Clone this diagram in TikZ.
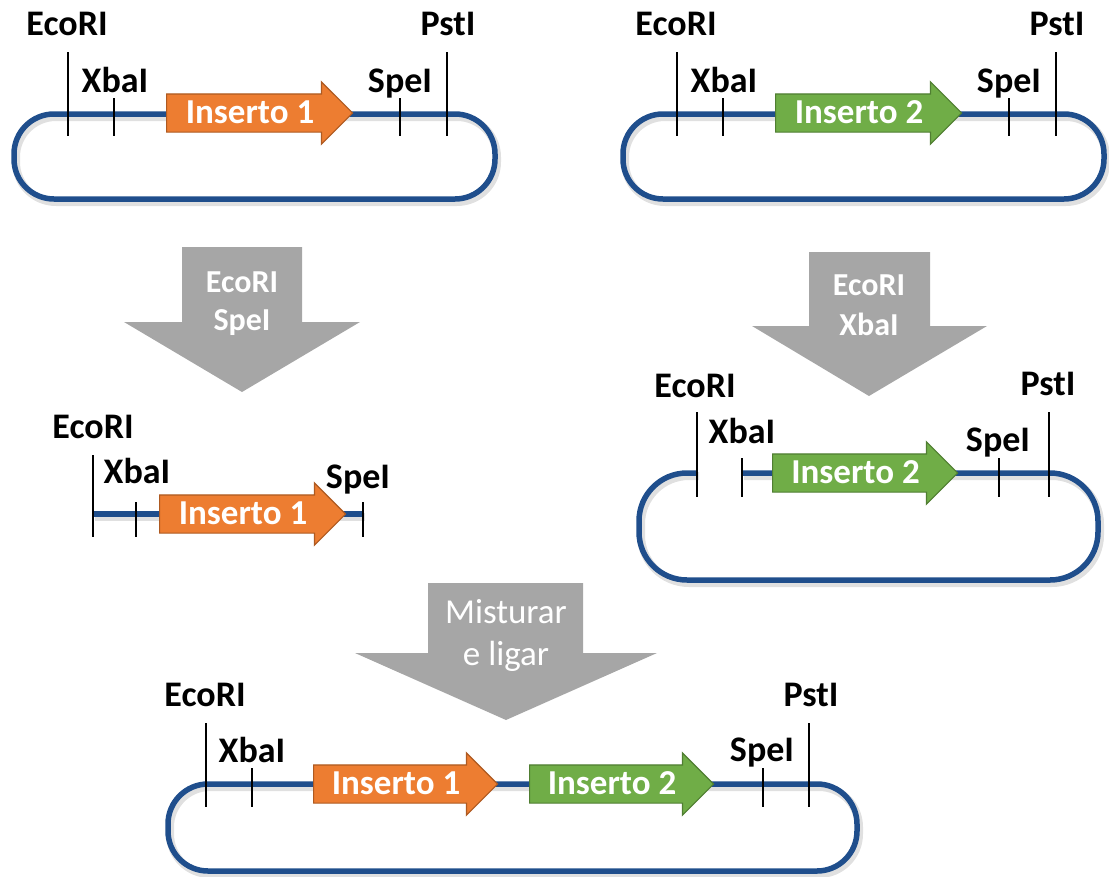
\documentclass[tikz,border=0pt]{standalone}
\usepackage{fontspec}
\setmainfont{Carlito}
\usetikzlibrary{shapes.arrows}
\definecolor{dnablue}{RGB}{31,78,140}
\definecolor{insorange}{RGB}{237,125,49}
\definecolor{insorangedk}{RGB}{174,90,33}
\definecolor{insgreen}{RGB}{112,173,71}
\definecolor{insgreendk}{RGB}{80,126,50}
\definecolor{enzgray}{RGB}{166,166,166}
\tikzset{
  ring/.style={draw=dnablue, line width=5.5pt, rounded corners=40pt,
    preaction={draw=black, draw opacity=0.12, line width=8pt, transform canvas={shift={(2pt,-3pt)}}}},
  cut/.style={line width=2.5pt},
  site/.style={font=\fontsize{36}{40}\selectfont\bfseries, anchor=base, inner sep=0pt},
  inserto/.style={single arrow, anchor=tail, single arrow head extend=12pt, inner xsep=2pt, inner ysep=0pt,
    text height=28.5pt, text depth=8.5pt, line width=1.2pt, text=white, font=\fontsize{35}{40}\selectfont\bfseries},
  ins1/.style={inserto, fill=insorange, draw=insorangedk},
  ins2/.style={inserto, fill=insgreen, draw=insgreendk},
  enzarrow/.style={fill=enzgray},
  enztext/.style={text=white, anchor=base, inner sep=0pt, font=\fontsize{32}{36}\selectfont\bfseries}
}
\begin{document}
\begin{tikzpicture}[x=1pt,y=-1pt]
  \useasboundingbox (0,0) rectangle (1109,876);
  % starting plasmids
  \foreach \dx/\n/\st in {0/1/ins1, 609/2/ins2} {
    \begin{scope}[xshift=\dx pt]
      \draw[ring] (14,114) rectangle (495,199);
      \node[\st, minimum height=186pt] (ins\n) at (166,113) {Inserto \n};
      \draw[cut] (68,52) -- (68,136);
      \draw[cut] (114,98) -- (114,136);
      \draw[cut] (400,98) -- (400,136);
      \draw[cut] (447,52) -- (447,136);
      \node[site] (eco\n) at (67,35) {EcoRI};
      \node[site] (xba\n) at (115,92) {XbaI};
      \node[site] (spe\n) at (400,92) {SpeI};
      \node[site] (pst\n) at (448,35) {PstI};
    \end{scope}
  }
  % digestion
  \fill[enzarrow] (182,247) -- (302,247) -- (302,322) -- (360,322) -- (242,392) -- (124,322) -- (182,322) -- cycle;
  \node[enztext] (dig1a) at (242,292) {EcoRI};
  \node[enztext] (dig1b) at (242,330) {SpeI};
  \fill[enzarrow] (809,252) -- (930,252) -- (930,326) -- (987,326) -- (869,396) -- (752,326) -- (809,326) -- cycle;
  \node[enztext] (dig2a) at (869,295) {EcoRI};
  \node[enztext] (dig2b) at (869,335) {XbaI};
  % fragment
  \draw[ring] (93,514) -- (363,514);
  \node[ins1, minimum height=186pt] (frag) at (159,514) {Inserto 1};
  \draw[cut] (93,455) -- (93,537);
  \draw[cut] (136,502) -- (136,537);
  \draw[cut] (363,502) -- (363,537);
  \node[site] (ecof) at (93,438) {EcoRI};
  \node[site] (xbaf) at (137,483) {XbaI};
  \node[site] (spef) at (358,488) {SpeI};
  % open vector
  \draw[ring, rounded corners=48pt] (742,473) -- (1098,473) -- (1098,580) -- (639,580) -- (639,473) -- (697,473);
  \node[ins2, minimum height=185pt] (vec) at (772,473) {Inserto 2};
  \draw[cut] (697,412) -- (697,497);
  \draw[cut] (742,458) -- (742,497);
  \draw[cut] (999,458) -- (999,497);
  \draw[cut] (1049,412) -- (1049,497);
  \node[site] (ecov) at (695,397) {EcoRI};
  \node[site] (xbav) at (742,443) {XbaI};
  \node[site] (spev) at (998,451) {SpeI};
  \node[site] (pstv) at (1048,395) {PstI};
  % ligation
  \fill[enzarrow] (428,583) -- (583,583) -- (583,653) -- (657,653) -- (506,720) -- (355,653) -- (428,653) -- cycle;
  \node[enztext, font=\fontsize{35}{40}\selectfont] (lig1) at (506,623) {Misturar};
  \node[enztext, font=\fontsize{35}{40}\selectfont] (lig2) at (506,665) {e ligar};
  \draw[ring] (168,784) rectangle (857,871);
  \node[ins1, minimum height=184pt] (fin1) at (313,784) {Inserto 1};
  \node[ins2, minimum height=184pt] (fin2) at (529,784) {Inserto 2};
  \draw[cut] (206,723) -- (206,807);
  \draw[cut] (252,768) -- (252,807);
  \draw[cut] (763,768) -- (763,807);
  \draw[cut] (809,723) -- (809,807);
  \node[site] (ecof2) at (205,706) {EcoRI};
  \node[site] (xbaf2) at (252,762) {XbaI};
  \node[site] (spef2) at (762,761) {SpeI};
  \node[site] (pstf2) at (811,706) {PstI};
\end{tikzpicture}
\end{document}
